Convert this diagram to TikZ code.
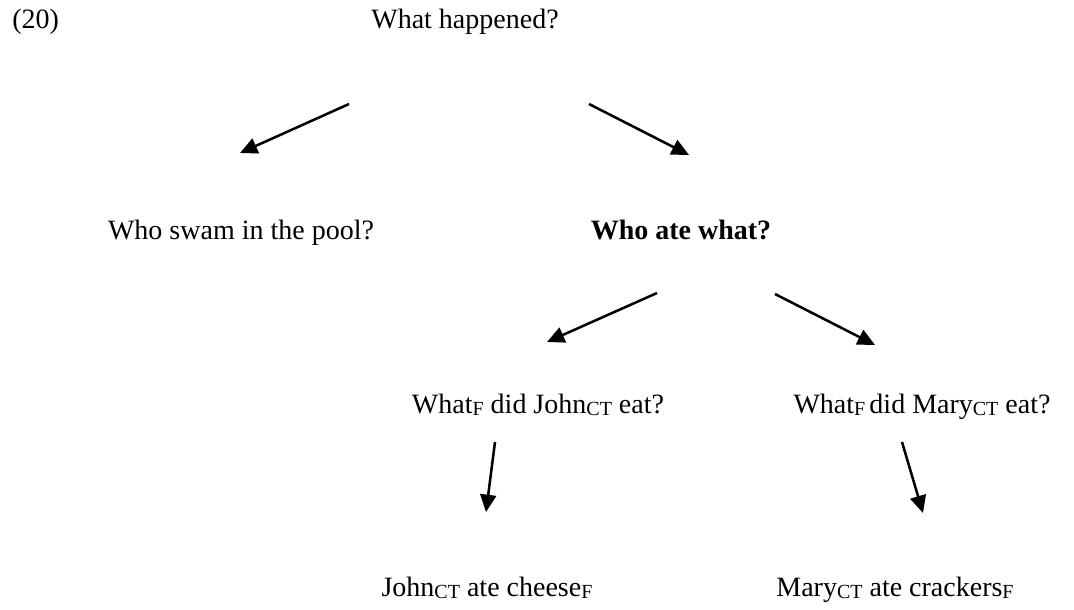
\documentclass[tikz,border=0pt]{standalone}
\usepackage{fontspec}
\setmainfont{Liberation Serif}
\usetikzlibrary{arrows.meta,positioning}
\newcommand{\lsub}[1]{\raisebox{-0.1em}{\fontsize{15}{15}\selectfont #1}}

\begin{document}
\begin{tikzpicture}[x=0.75pt,y=-0.75pt,
    txt/.style={anchor=base,inner sep=0pt,font=\fontsize{21}{25}\selectfont},
    arr/.style={line width=1.9pt,-{Triangle[length=13pt,width=12pt]}}]
    \useasboundingbox (0,0) rectangle (1074,610);
    % top question
    \node[txt,anchor=base west] (num) at (12,29) {(20)};
    \node[txt] (hap) at (465,29) {What happened?};
    % second row
    \node[txt] (swam) at (241,239) {Who swam in the pool?};
    \node[txt,font=\fontsize{21}{25}\selectfont\bfseries] (ate) at (681,239) {Who ate what?};
    % sub-questions
    \node[txt] (wj) at (538,413) {What\lsub{F} did John\lsub{CT} eat?};
    \node[txt] (wm) at (922,413) {What\lsub{F}\hspace{0.15em}did Mary\lsub{CT} eat?};
    % answers
    \node[txt] (aj) at (487,596) {John\lsub{CT} ate cheese\lsub{F}};
    \node[txt] (am) at (895,596) {Mary\lsub{CT} ate crackers\lsub{F}};
    % arrow ends
    \coordinate (a1) at (349,104);  \coordinate (b1) at (240,153);
    \coordinate (a2) at (589,104);  \coordinate (b2) at (689,155);
    \coordinate (a3) at (657,293);  \coordinate (b3) at (547,342);
    \coordinate (a4) at (775,294);  \coordinate (b4) at (875,345);
    \coordinate (a5) at (495,442);  \coordinate (b5) at (486,512);
    \coordinate (a6) at (902,442);  \coordinate (b6) at (923,513);
    \draw[arr] (a1) -- (b1);
    \draw[arr] (a2) -- (b2);
    \draw[arr] (a3) -- (b3);
    \draw[arr] (a4) -- (b4);
    \draw[arr] (a5) -- (b5);
    \draw[arr] (a6) -- (b6);
\end{tikzpicture}
\end{document}
